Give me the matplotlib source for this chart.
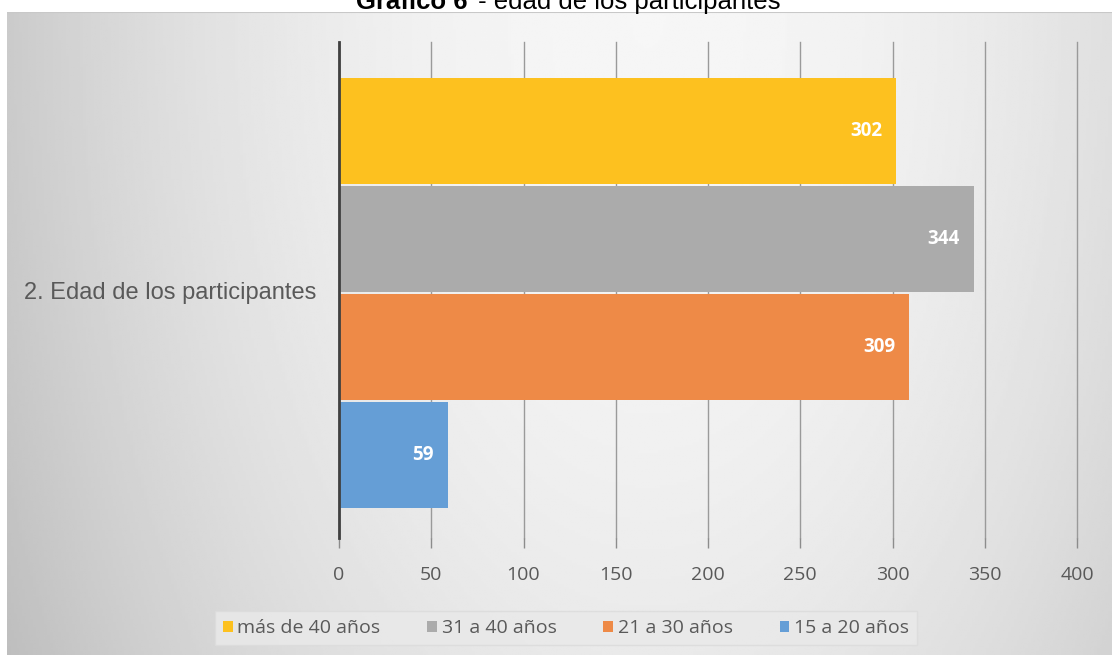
import numpy as np
import matplotlib
matplotlib.use("Agg")
import matplotlib.pyplot as plt
from matplotlib.patches import Patch

# data
category = "2. Edad de los participantes"
series = ["más de 40 años", "31 a 40 años", "21 a 30 años", "15 a 20 años"]
values = [302, 344, 309, 59]
colors = ["#FDC11F", "#ABABAB", "#EE8A47", "#659ED6"]
xticks = [0, 50, 100, 150, 200, 250, 300, 350, 400]

W, H = 1118, 659
fig = plt.figure(figsize=(W / 100, H / 100), dpi=100)
fig.patch.set_facecolor("white")

# chart area with soft grey gradient
bg = fig.add_axes([7 / W, 4 / H, 1105 / W, 643 / H], zorder=0)
gx = np.linspace(0, 1, 400)
gy = np.linspace(0, 1, 240)
X, Y = np.meshgrid(gx, gy)
shade = 0.965 - 0.17 * ((X - 0.58) / 0.58) ** 2 - 0.05 * Y ** 2
bg.imshow(np.clip(shade, 0, 1), cmap="gray", vmin=0, vmax=1, aspect="auto",
          extent=[0, 1, 0, 1], origin="upper")
bg.plot([0, 1], [1, 1], color="#c8c8c8", lw=1.5)
bg.set_xlim(0, 1)
bg.set_ylim(0, 1)
bg.axis("off")

ax = fig.add_axes([339 / W, 1 - 538 / H, 738 / W, 496 / H], zorder=1)
ax.set_facecolor("none")

step = 0.218
offsets = [1.5 * step, 0.5 * step, -0.5 * step, -1.5 * step]
for off, v, c in zip(offsets, values, colors):
    ax.barh(off - 0.006, v, height=0.213, color=c, zorder=2)
    ax.annotate(str(v), (v, off - 0.006), xytext=(-10, 0), textcoords="offset points",
                ha="right", va="center", color="white", fontsize=13.5,
                fontweight="bold", family="Open Sans", zorder=3)

ax.set_xlim(0, 400)
ax.set_ylim(-0.5, 0.5)
ax.set_xticks(xticks)
ax.set_xticklabels([str(t) for t in xticks], color="#595959", fontsize=14,
                   family="Open Sans")
ax.set_yticks([0])
ax.set_yticklabels([category], color="#595959", fontsize=17,
                   family="Liberation Sans")
ax.tick_params(axis="x", length=7, color="#8c8c8c", width=1, pad=13)
ax.tick_params(axis="y", length=0, pad=16)
ax.grid(axis="x", color="#9a9a9a", lw=1, zorder=1)
for gl in ax.get_xgridlines():
    gl.set_clip_on(False)
for s in ["top", "right", "bottom"]:
    ax.spines[s].set_visible(False)
ax.spines["left"].set_color("#404040")
ax.spines["left"].set_linewidth(2)
ax.spines["left"].set_zorder(4)

handles = [Patch(facecolor=c, edgecolor="none") for c in colors]
leg = fig.legend(handles, series, loc="center", ncol=4,
                 bbox_to_anchor=(566 / W, 1 - 628 / H), frameon=True,
                 fancybox=False, prop={"family": "Open Sans", "size": 14},
                 handlelength=0.5, handleheight=0.5, handletextpad=0.25,
                 columnspacing=2.4, borderpad=0.4)
leg.get_frame().set_facecolor("#e9e9e9")
leg.get_frame().set_edgecolor("#dcdcdc")
leg.get_frame().set_alpha(0.85)
for t in leg.get_texts():
    t.set_color("#595959")

# title, partly cropped at the top edge as in the source
fig.text(467 / W, 1 - 9 / H, "Gráfico 6", ha="right", va="baseline",
         fontsize=18.5, fontweight="bold", family="Liberation Sans")
fig.text(471 / W, 1 - 9 / H, " - edad de los participantes", ha="left",
         va="baseline", fontsize=18.5, family="Liberation Sans")

fig.savefig("out.png", dpi=100)
